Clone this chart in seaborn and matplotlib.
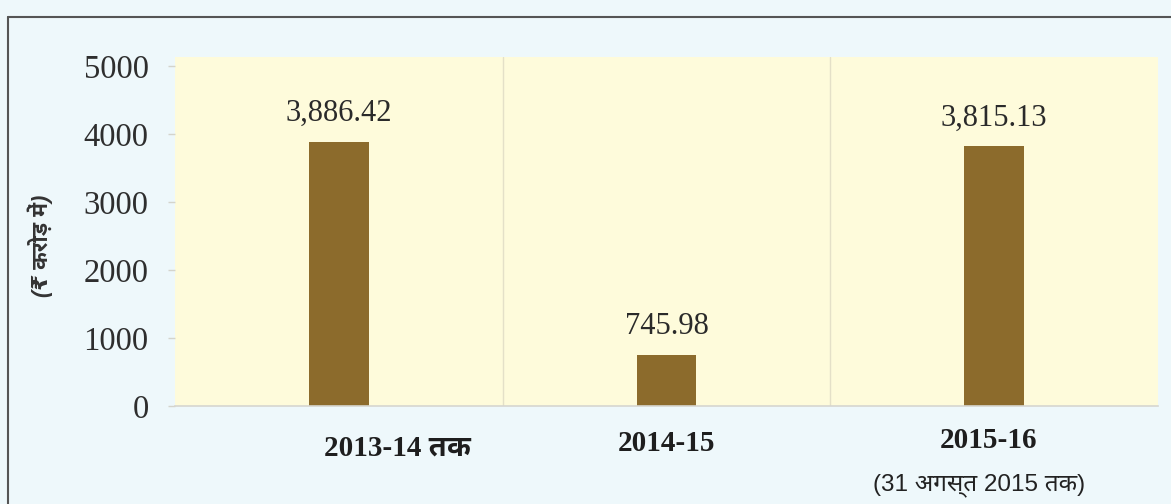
import matplotlib
matplotlib.use("Agg")
import matplotlib.pyplot as plt
import matplotlib.transforms as mtransforms
from matplotlib import font_manager as fm
from matplotlib.ft2font import FT2Font
from matplotlib.lines import Line2D
import seaborn as sns
import pandas as pd

# ---- data ----
categories = ["2013-14 तक", "2014-15", "2015-16"]
values = [3886.42, 745.98, 3815.13]
value_labels = ["3,886.42", "745.98", "3,815.13"]
y_ticks = [0, 1000, 2000, 3000, 4000, 5000]
y_label = "(₹ करोड़ में)"
sub_note = "(31 अगस्त 2015 तक)"

# ---- find a font with Devanagari glyphs, if any ----
cands = []
for f in fm.fontManager.ttflist:
    try:
        cmap = FT2Font(f.fname).get_charmap()
        if 0x0915 in cmap and 0x0924 in cmap:
            cands.append(f.name)
    except Exception:
        pass


def rank(n):
    s = 0
    if "Mono" in n:
        s += 10
    if "Devanagari" in n:
        s -= 3
    if "Noto" in n:
        s -= 2
    if "Sans" in n:
        s -= 1
    return s


cands = sorted(set(cands), key=rank)
deva = cands[0] if cands else None

serif_fam = ["Liberation Serif", "DejaVu Serif"] + ([deva] if deva else [])
sans_fam = ["Liberation Sans", "DejaVu Sans"] + ([deva] if deva else [])

sns.set_theme(style="white")
plt.rcParams["font.family"] = serif_fam

BG = "#eef8fb"
PLOT_BG = "#fefbdb"
BAR = "#8c6b2c"

df = pd.DataFrame({"cat": categories, "val": values})

W, H = 1171, 504
fig = plt.figure(figsize=(W / 100, H / 100), dpi=100, facecolor=BG)
ax = fig.add_axes([175 / W, (H - 406) / H, 983 / W, 349 / H])
ax.set_facecolor(PLOT_BG)

sns.barplot(data=df, x="cat", y="val", color=BAR, saturation=1, width=0.183,
            linewidth=0, edgecolor=BAR, ax=ax)

ax.set_ylim(0, 5130)
ax.set_xlim(-0.5, 2.5)
ax.set_yticks(y_ticks)
ax.set_yticklabels([str(t) for t in y_ticks], fontsize=23.5, color="#2e2e2e", family=serif_fam)
ax.tick_params(axis="y", length=5, color="#d4d4cc", width=1, pad=14, left=True)
ax.tick_params(axis="x", length=0, pad=17)
for lab in ax.get_xticklabels():
    lab.set_fontsize(21)
    lab.set_fontweight("bold")
    lab.set_color("#1e1e1e")
    lab.set_family(serif_fam)
# first label sits a bit right of its bar
first = ax.get_xticklabels()[0]
first.set_transform(first.get_transform() + mtransforms.ScaledTranslation(59 / 100, -5 / 100, fig.dpi_scale_trans))
third = ax.get_xticklabels()[2]
third.set_transform(third.get_transform() + mtransforms.ScaledTranslation(-6 / 100, 3 / 100, fig.dpi_scale_trans))

ax.set_xlabel("")
ax.set_ylabel("")

for s in ["top", "right", "left"]:
    ax.spines[s].set_visible(False)
ax.spines["bottom"].set_color("#d6d6d0")
ax.spines["bottom"].set_linewidth(1.2)

for xv in [0.5, 1.5]:
    ax.axvline(xv, color="#e4e0c8", lw=1, zorder=0)

for cont in ax.containers:
    ax.bar_label(cont, labels=value_labels, padding=10, fontsize=22, color="#2a2a2a", family=serif_fam)

# y label and note
fig.text(40 / W, 1 - 246 / H, y_label, rotation=90, ha="center", va="center",
         fontsize=15.5, fontweight="bold", fontstyle="italic", color="#333333", family=sans_fam)
fig.text(979 / W, 1 - 485 / H, sub_note, ha="center", va="center",
         fontsize=17.5, color="#222222", family=sans_fam)

# frame lines
fig.add_artist(Line2D([8 / W, 1], [1 - 17 / H, 1 - 17 / H], transform=fig.transFigure, color="#555555", lw=1.5))
fig.add_artist(Line2D([8 / W, 8 / W], [0, 1 - 17 / H], transform=fig.transFigure, color="#555555", lw=1.5))

fig.savefig("out.png", dpi=100, facecolor=BG)
